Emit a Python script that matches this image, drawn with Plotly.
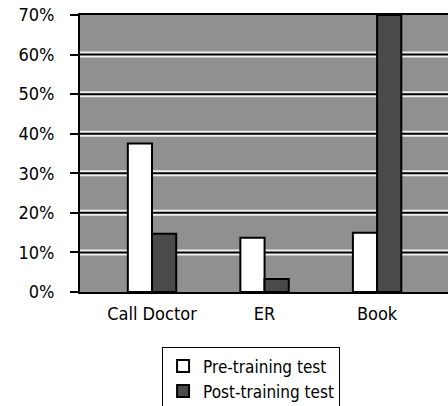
import plotly.graph_objects as go

categories = ["Call Doctor", "ER", "Book"]
pre_training = [37.5, 13.7, 15.0]
post_training = [14.7, 3.3, 70.0]
y_ticks = [0, 10, 20, 30, 40, 50, 60, 70]
y_tick_labels = ["0%", "10%", "20%", "30%", "40%", "50%", "60%", "70%"]

font_family = "DejaVu Sans Condensed, Liberation Sans Narrow, Arial Narrow, Liberation Sans, sans-serif"

fig = go.Figure()
fig.add_trace(go.Bar(
    x=categories, y=pre_training, name="Pre-training test",
    marker=dict(color="white", line=dict(color="black", width=2)),
))
fig.add_trace(go.Bar(
    x=categories, y=post_training, name="Post-training test",
    marker=dict(color="#4a4a4a", line=dict(color="black", width=2)),
))

# etched gridlines: light halo with a dark centre line
for v in y_ticks[1:-1]:
    fig.add_shape(type="line", xref="paper", x0=0, x1=1, yref="y", y0=v, y1=v,
                  line=dict(color="#eeeeee", width=6), layer="below")
for v in y_ticks[1:-1]:
    fig.add_shape(type="line", xref="paper", x0=0, x1=1, yref="y", y0=v, y1=v,
                  line=dict(color="black", width=2), layer="below")

fig.update_layout(
    width=448, height=406,
    margin=dict(l=80, r=0, t=15, b=114, autoexpand=False),
    paper_bgcolor="white",
    plot_bgcolor="#909090",
    barmode="group",
    bargap=0.57,
    bargroupgap=0,
    font=dict(family=font_family, size=18, color="black"),
    legend=dict(
        x=0.223, y=-0.2, xanchor="left", yanchor="top",
        bordercolor="black", borderwidth=1, bgcolor="white",
        font=dict(size=17), tracegroupgap=0,
    ),
    showlegend=True,
)
fig.update_xaxes(
    range=[-0.64, 2.63],
    showline=True, linecolor="black", linewidth=2, mirror=True,
    ticks="", showgrid=False,
    ticklabelstandoff=4,
    tickfont=dict(size=18),
)
fig.update_yaxes(
    range=[0, 70],
    tickvals=y_ticks, ticktext=y_tick_labels,
    showline=True, linecolor="black", linewidth=2, mirror=True,
    ticks="outside", ticklen=8, tickcolor="black", tickwidth=2,
    ticklabelstandoff=12,
    showgrid=False,
    zeroline=False,
    tickfont=dict(size=18),
)

fig.write_html("out.html", config={"displayModeBar": False},
               post_script="document.body.style.margin='0';")
